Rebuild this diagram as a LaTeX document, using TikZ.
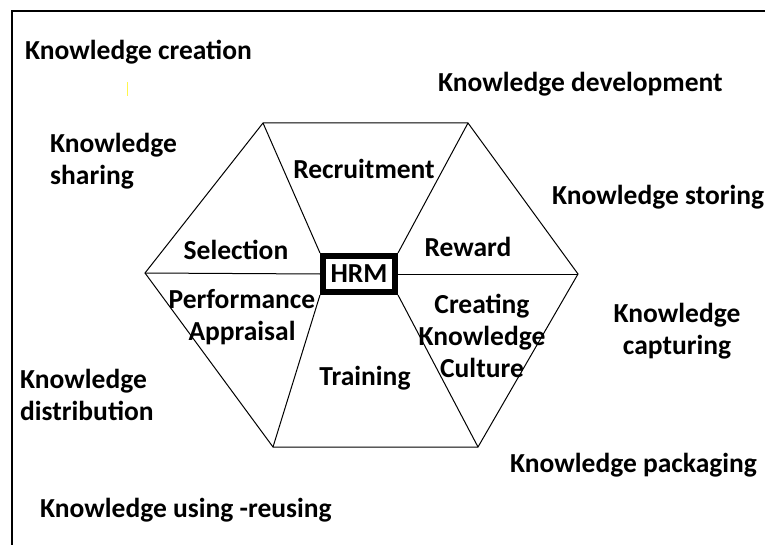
\documentclass[tikz,border=0pt]{standalone}
\usepackage{fontspec}
\setmainfont{Carlito}
\newcommand\kfont{\fontsize{27.5}{32}\selectfont\bfseries}

\tikzset{
  lbl/.style={font=\kfont, inner sep=0pt},
  hexline/.style={line width=1pt},
}

\begin{document}
\begin{tikzpicture}[x=1pt,y=-1pt]
        \useasboundingbox (0,0) rectangle (765,545);
        % frame
        \draw[line width=1.5pt] (12,545) -- (12,11) -- (765,11);
        \draw[yellow!70, line width=1pt] (127,82) -- (127,96);
        % hexagon corners
        \coordinate (A) at (263,123);
        \coordinate (B) at (468,123);
        \coordinate (C) at (578,274);
        \coordinate (D) at (478,447);
        \coordinate (E) at (273,447);
        \coordinate (F) at (145,273);
        \node[draw, line width=6pt, minimum width=72pt, minimum height=36pt,
              lbl] (hrm) at (359,274) {HRM};
        \draw[hexline] (A) -- (B) -- (C) -- (D) -- (E) -- (F) -- cycle;
        \draw[hexline] (A) -- (hrm.north west);
        \draw[hexline] (B) -- (hrm.north east);
        \draw[hexline] (D) -- (hrm.south east);
        \draw[hexline] (E) -- (hrm.south west);
        \draw[hexline] (F) -- (hrm.west);
        \draw[hexline] (hrm.east) -- (C);
        % inner labels
        \node[lbl] (recruitment) at (364,169) {Recruitment};
        \node[lbl] (selection) at (236,250) {Selection};
        \node[lbl] (reward) at (468,247) {Reward};
        \node[lbl, align=center] (appraisal) at (242,317) {Performance\\Appraisal};
        \node[lbl, align=center] (culture) at (482,336) {Creating\\Knowledge\\Culture};
        \node[lbl] (training) at (365,378) {Training};
        % outer labels
        \node[lbl, anchor=west] (creation) at (25,52) {Knowledge creation};
        \node[lbl, anchor=west] (development) at (438,84) {Knowledge development};
        \node[lbl, anchor=west, align=left] (sharing) at (50,161) {Knowledge\\sharing};
        \node[lbl, anchor=west] (storing) at (552,197) {Knowledge storing};
        \node[lbl, align=center] (capturing) at (677,331) {Knowledge\\capturing};
        \node[lbl, anchor=west, align=left] (distribution) at (20,395) {Knowledge\\distribution};
        \node[lbl, anchor=west] (packaging) at (510,465) {Knowledge packaging};
        \node[lbl, anchor=west] (reusing) at (40,510) {Knowledge using -reusing};
\end{tikzpicture}
\end{document}
